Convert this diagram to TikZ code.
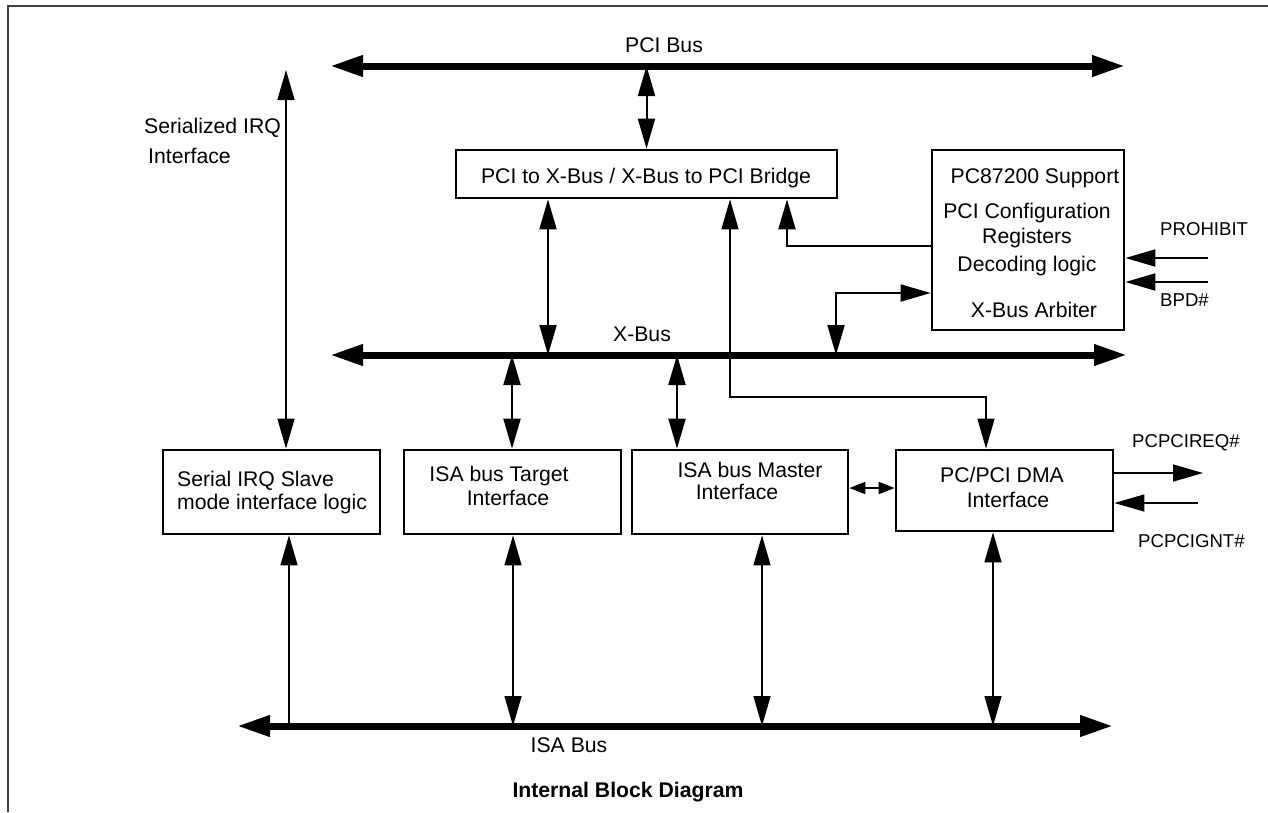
\documentclass[tikz,border=0pt]{standalone}
\usepackage{fontspec}
\setmainfont{Liberation Sans}
\usetikzlibrary{arrows.meta}

\begin{document}
\begin{tikzpicture}[x=1pt,y=-1pt,draw=black,
    blk/.style={draw,line width=2.7pt,inner sep=0pt},
    txt/.style={inner sep=0pt,anchor=base,font=\fontsize{21.2}{25}\selectfont},
    sig/.style={inner sep=0pt,anchor=base west,font=\fontsize{18.6}{22}\selectfont},
    bus/.style={line width=7pt,{Triangle[length=33pt,width=20pt]}-{Triangle[length=33pt,width=20pt]}},
    link/.style={line width=2pt},
    wire/.style={line width=1.3pt},
    both/.style={{Triangle[length=30pt,width=17pt]}-{Triangle[length=30pt,width=17pt]}},
    tip/.style={-{Triangle[length=30pt,width=17pt]}},
    pit/.style={{Triangle[length=30pt,width=17pt]}-},
  ]
    \useasboundingbox (0,0) rectangle (1268,812);
    \fill[white] (0,0) rectangle (1268,812);
    \draw[line width=1.5pt,draw=black!75] (8,812) -- (8,6) -- (1268,6);

    % buses
    \coordinate (pciL) at (330,66);  \coordinate (pciR) at (1125,66);
    \coordinate (xbL) at (330,355);  \coordinate (xbR) at (1127,355);
    \coordinate (isaL) at (237,726); \coordinate (isaR) at (1113,726);
    \draw[bus] (pciL) -- (pciR);
    \draw[bus] (xbL) -- (xbR);
    \draw[bus] (isaL) -- (isaR);
    \node[txt] (pcilbl) at (664,52) {PCI Bus};
    \node[txt] (xblbl) at (642,341) {X-Bus};
    \node[txt] (isalbl) at (569,752) {ISA Bus};

    % blocks
    \node[blk,minimum width=381,minimum height=48] (bridge) at (646.5,174) {};
    \node[blk,minimum width=192,minimum height=180] (sup) at (1028,240) {};
    \node[blk,minimum width=217,minimum height=84] (sirq) at (271.5,492) {};
    \node[blk,minimum width=217,minimum height=84] (tgt) at (512.5,492) {};
    \node[blk,minimum width=216,minimum height=84] (mst) at (740,492) {};
    \node[blk,minimum width=217,minimum height=81] (dma) at (1004.5,490.5) {};

    % block texts
    \node[txt] (bridgetxt) at (646,183) {PCI to X-Bus / X-Bus to PCI Bridge};
    \node[txt] (suptxt1) at (1035,183) {PC87200 Support};
    \node[txt] (suptxt2) at (1027,218) {PCI Configuration};
    \node[txt] (suptxt3) at (1027,243) {Registers};
    \node[txt] (suptxt4) at (1027,271) {Decoding logic};
    \node[txt] (suptxt5) at (1034,317) {X-Bus Arbiter};
    \node[txt,anchor=base west] (sirqtxt1) at (177,486) {Serial IRQ Slave};
    \node[txt,anchor=base west] (sirqtxt2) at (177,509) {mode interface logic};
    \node[txt] (tgttxt1) at (499,481) {ISA bus Target};
    \node[txt] (tgttxt2) at (508,505) {Interface};
    \node[txt] (msttxt1) at (750,477) {ISA bus Master};
    \node[txt] (msttxt2) at (737,499) {Interface};
    \node[txt] (dmatxt1) at (1002,482) {PC/PCI DMA};
    \node[txt] (dmatxt2) at (1008,507) {Interface};

    % free labels
    \node[txt,anchor=base west] (irqlbl1) at (144,133) {Serialized IRQ};
    \node[txt,anchor=base west] (irqlbl2) at (148,163) {Interface};
    \node[sig] (prohlbl) at (1160,235) {PROHIBIT};
    \node[sig] (bpdlbl) at (1160,306) {BPD\#};
    \node[sig] (reqlbl) at (1132,447) {PCPCIREQ\#};
    \node[sig] (gntlbl) at (1138,547) {PCPCIGNT\#};
    \node[txt,font=\fontsize{21.2}{25}\selectfont\bfseries] (title) at (628,797) {Internal Block Diagram};

    % bus taps
    \coordinate (xt1) at (548,355); \coordinate (xt2) at (512,355);
    \coordinate (xt3) at (677,355); \coordinate (xt4) at (836,355);
    \coordinate (it1) at (289,726); \coordinate (it2) at (513,726);
    \coordinate (it3) at (762,726); \coordinate (it4) at (993,726);

    % upper connections
    \draw[link,both] (bridge.north) -- (bridge.north |- pciL);
    \coordinate (irqtop) at (286,70);
    \draw[link,line width=1.5pt,both] (irqtop) -- (irqtop |- sirq.north);
    \draw[link,both] (xt1 |- bridge.south) -- (xt1);
    \coordinate (cfg) at (787,246);
    \draw[link,tip] (cfg -| sup.west) -- (cfg) -- (cfg |- bridge.south);
    \coordinate (arb) at (836,293);
    \draw[link,both] (xt4) -- (arb) -- (arb -| sup.west);
    \coordinate (jog) at (730,397); \coordinate (jog2) at (986,397);
    \draw[wire,both] (jog |- bridge.south) -- (jog) -- (jog2) -- (jog2 |- dma.north);
    \coordinate (proh) at (1208,258); \coordinate (bpd) at (1208,282);
    \draw[link,tip] (proh) -- (proh -| sup.east);
    \draw[link,tip] (bpd) -- (bpd -| sup.east);

    % lower connections
    \draw[link,both] (xt2) -- (xt2 |- tgt.north);
    \draw[link,both] (xt3) -- (xt3 |- mst.north);
    \draw[wire,pit] (it1 |- sirq.south) -- (it1);
    \draw[wire,both] (it2 |- tgt.south) -- (it2);
    \draw[wire,both] (it3 |- mst.south) -- (it3);
    \draw[wire,both] (it4 |- dma.south) -- (it4);
    \coordinate (md) at (872,488);
    \draw[link,{Triangle[length=16pt,width=12pt]}-{Triangle[length=16pt,width=12pt]}] (md -| mst.east) -- (md -| dma.west);
    \coordinate (req) at (1203,473); \coordinate (gnt) at (1198,503);
    \draw[wire,tip] (req -| dma.east) -- (req);
    \draw[wire,tip] (gnt) -- (gnt -| dma.east);
\end{tikzpicture}
\end{document}
